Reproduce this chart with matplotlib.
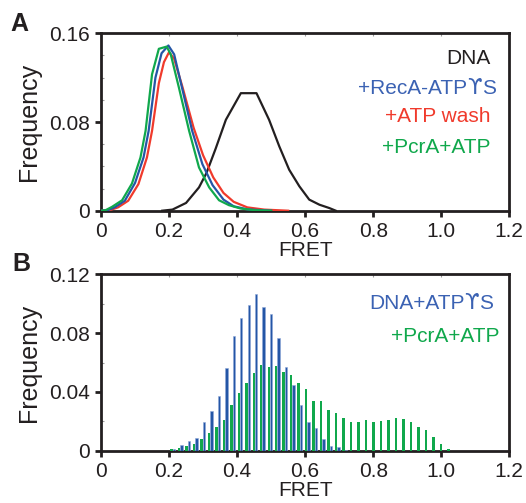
import matplotlib
matplotlib.use("Agg")
import matplotlib.pyplot as plt
from matplotlib.ticker import MultipleLocator
from matplotlib.offsetbox import TextArea, HPacker, AnchoredOffsetbox
import numpy as np

plt.rcParams['font.family'] = ['Liberation Sans', 'DejaVu Sans']

# ---------------- Panel A data (FRET, frequency) ----------------
dna_x = [0.18, 0.21, 0.25, 0.288, 0.31, 0.337, 0.367, 0.411, 0.457, 0.494, 0.524,
         0.553, 0.583, 0.612, 0.642, 0.671, 0.69]
dna_y = [0.0, 0.001, 0.007, 0.021, 0.034, 0.056, 0.082, 0.106, 0.106, 0.082, 0.058,
         0.037, 0.022, 0.010, 0.0054, 0.0024, 0.0]

reca_x = [0.0, 0.02, 0.04, 0.07, 0.10, 0.125, 0.14, 0.16, 0.178, 0.198, 0.215, 0.238,
          0.268, 0.298, 0.328, 0.36, 0.39, 0.43, 0.5]
reca_y = [0.0, 0.0005, 0.003, 0.009, 0.025, 0.048, 0.072, 0.12, 0.142, 0.149, 0.141,
          0.111, 0.072, 0.042, 0.023, 0.010, 0.004, 0.0012, 0.0]

wash_x = [0.0, 0.025, 0.05, 0.08, 0.11, 0.135, 0.15, 0.17, 0.185, 0.200, 0.215, 0.24,
          0.272, 0.30, 0.33, 0.36, 0.39, 0.43, 0.48, 0.55]
wash_y = [0.0, 0.0004, 0.003, 0.009, 0.024, 0.048, 0.072, 0.115, 0.134, 0.143, 0.137,
          0.111, 0.075, 0.050, 0.030, 0.016, 0.008, 0.003, 0.001, 0.0]

pcra_x = [0.0, 0.013, 0.032, 0.062, 0.091, 0.116, 0.131, 0.150, 0.170, 0.193, 0.205,
          0.229, 0.259, 0.288, 0.318, 0.347, 0.376, 0.41, 0.45, 0.5]
pcra_y = [0.0, 0.0004, 0.0034, 0.0094, 0.0245, 0.048, 0.072, 0.123, 0.146, 0.148, 0.141,
          0.111, 0.072, 0.039, 0.021, 0.0094, 0.005, 0.002, 0.0005, 0.0]

# ---------------- Panel B data (histogram bins) ----------------
fret_bins = [0.207, 0.229, 0.251, 0.273, 0.295, 0.317, 0.339, 0.361, 0.383, 0.405,
             0.427, 0.449, 0.471, 0.493, 0.515, 0.537, 0.559, 0.581, 0.603, 0.625,
             0.647, 0.669, 0.691, 0.713, 0.735, 0.757, 0.779, 0.801, 0.823, 0.845,
             0.867, 0.889, 0.911, 0.933, 0.955, 0.977, 0.999, 1.021]
atpgs_freq = [0.001, 0.0036, 0.0064, 0.0086, 0.0194, 0.027, 0.037, 0.056, 0.078, 0.090,
              0.099, 0.1066, 0.098, 0.0928, 0.0765, 0.057, 0.045, 0.031, 0.0197, 0.0152,
              0.0077, 0.0035, 0.0024, 0.0008, 0, 0, 0, 0, 0, 0,
              0, 0, 0, 0, 0, 0, 0, 0]
pcra_freq = [0.001, 0.0016, 0.003, 0.0045, 0.0077, 0.012, 0.016, 0.021, 0.031, 0.039,
             0.0458, 0.0526, 0.0583, 0.0572, 0.0574, 0.0538, 0.0515, 0.0458, 0.042, 0.034,
             0.0337, 0.0277, 0.0254, 0.022, 0.0197, 0.0195, 0.0206, 0.0193, 0.0204, 0.0209,
             0.0222, 0.0213, 0.0193, 0.0161, 0.0141, 0.0095, 0.0044, 0.0014]

xticks = [0, 0.2, 0.4, 0.6, 0.8, 1.0, 1.2]
xticklabels = ['0', '0.2', '0.4', '0.6', '0.8', '1.0', '1.2']
yticks_a = [0, 0.08, 0.16]
yticklabels_a = ['0', '0.08', '0.16']
yticks_b = [0, 0.04, 0.08, 0.12]
yticklabels_b = ['0', '0.04', '0.08', '0.12']

BLACK = '#231f20'
BLUE = '#2456a6'
RED = '#f03a2c'
GREEN = '#10a84c'
BLUE_T = '#3b62b3'

fig = plt.figure(figsize=(5.26, 5.03), dpi=100)
W, H = 526, 503

def make_axes(top_px, bottom_px):
    left_px, right_px = 101, 509.3
    return fig.add_axes([left_px / W, 1 - bottom_px / H,
                         (right_px - left_px) / W, (bottom_px - top_px) / H])

axA = make_axes(33.3, 210.7)
axB = make_axes(274.3, 450.7)

def style(ax, yticks, yticklabels, ymax):
    ax.set_xlim(0, 1.2)
    ax.set_ylim(0, ymax)
    for s in ax.spines.values():
        s.set_linewidth(2.0)
        s.set_color(BLACK)
    ax.set_xticks(xticks)
    ax.set_xticklabels(xticklabels)
    ax.set_yticks(yticks)
    ax.set_yticklabels(yticklabels)
    ax.yaxis.set_minor_locator(MultipleLocator(0.02))
    ax.tick_params(which='major', direction='out', length=4.5, width=2.0,
                   color=BLACK, labelsize=15, labelcolor=BLACK, pad=3.5)
    ax.tick_params(which='minor', axis='y', direction='in', length=2.5, width=0.8,
                   color='#9a9a9a')
    sec = ax.secondary_xaxis('top')
    sec.set_xticks(xticks[1:-1])
    sec.tick_params(direction='in', length=2.5, width=0.8, color='#9a9a9a',
                    labeltop=False)
    sec.spines['top'].set_visible(False)
    ax.set_xlabel('FRET', fontsize=15, color=BLACK, labelpad=0)
    ax.set_ylabel('Frequency', fontsize=18, color=BLACK, labelpad=6)

style(axA, yticks_a, yticklabels_a, 0.16)
style(axB, yticks_b, yticklabels_b, 0.12)

def mixed_label(ax, parts, x, y, color):
    boxes = [TextArea(t, textprops=dict(color=color, fontsize=15, family=f))
             for t, f in parts]
    pack = HPacker(children=boxes, align='baseline', pad=0, sep=0)
    ab = AnchoredOffsetbox(loc='center right', child=pack, pad=0, borderpad=0,
                           frameon=False, bbox_to_anchor=(x, y),
                           bbox_transform=ax.transAxes)
    ax.add_artist(ab)

# Panel A lines
axA.plot(dna_x, dna_y, color=BLACK, lw=1.6, zorder=3)
axA.plot(wash_x, wash_y, color=RED, lw=1.6, zorder=3)
axA.plot(reca_x, reca_y, color=BLUE, lw=1.6, zorder=3)
axA.plot(pcra_x, pcra_y, color=GREEN, lw=1.6, zorder=3)

tx = 0.955
axA.text(tx, 0.86, 'DNA', color=BLACK, fontsize=15, ha='right', va='center',
         transform=axA.transAxes)
mixed_label(axA, [('+RecA-ATP', 'Liberation Sans'), ('\u03d2', 'DejaVu Sans'),
                  ('S', 'Liberation Sans')], tx + 0.012, 0.69, BLUE_T)
axA.text(tx, 0.53, '+ATP wash', color=RED, fontsize=15, ha='right', va='center',
         transform=axA.transAxes)
axA.text(tx, 0.355, '+PcrA+ATP', color=GREEN, fontsize=15, ha='right', va='center',
         transform=axA.transAxes)

# Panel B bars
bw = 0.0072
bins = np.array(fret_bins)
axB.bar(bins, pcra_freq, width=bw, color=GREEN, zorder=3, linewidth=0)
axB.bar(bins + 0.0072, atpgs_freq, width=bw, color=BLUE, zorder=3,
        edgecolor='#8fa8d8', linewidth=0.4)

mixed_label(axB, [('DNA+ATP', 'Liberation Sans'), ('\u03d2', 'DejaVu Sans'),
                  ('S', 'Liberation Sans')], 0.96, 0.835, BLUE_T)
axB.text(0.975, 0.65, '+PcrA+ATP', color=GREEN, fontsize=15, ha='right',
         va='center', transform=axB.transAxes)

fig.text(10 / W, 1 - 24 / H, 'A', fontsize=18, fontweight='bold', color=BLACK,
         ha='left', va='center')
fig.text(12 / W, 1 - 264 / H, 'B', fontsize=18, fontweight='bold', color=BLACK,
         ha='left', va='center')

fig.savefig('out.png', dpi=100)
